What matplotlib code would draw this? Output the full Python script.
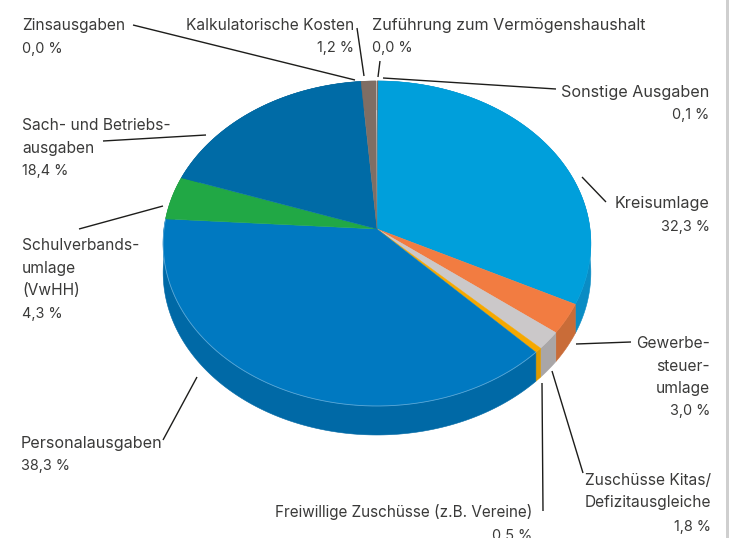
import numpy as np
import matplotlib
matplotlib.use('Agg')
import matplotlib.pyplot as plt
from matplotlib.patches import Polygon

plt.rcParams['font.family'] = ['Inter', 'DejaVu Sans']

# clockwise from twelve o'clock
categories = ['Sonstige Ausgaben', 'Kreisumlage', 'Gewerbesteuerumlage', 'Zuschüsse Kitas/Defizitausgleiche',
              'Freiwillige Zuschüsse (z.B. Vereine)', 'Personalausgaben', 'Schulverbandsumlage (VwHH)',
              'Sach- und Betriebsausgaben', 'Zinsausgaben', 'Kalkulatorische Kosten',
              'Zuführung zum Vermögenshaushalt']
values = [0.1, 32.3, 3.0, 1.8, 0.5, 38.3, 4.3, 18.4, 0.0, 1.2, 0.0]
top_colors = ['#7f6e64', '#009fdb', '#f27c41', '#cbc8c9', '#f5a800', '#0079c1', '#21a845',
              '#006ba6', '#006ba6', '#7f6e64', '#7f6e64']
side_colors = ['#6b5d54', '#0a8cc4', '#c96c38', '#a9a6a7', '#dd9a00', '#0069a6', '#1b8f3a',
               '#005a8c', '#005a8c', '#6b5d54', '#6b5d54']

# text, x, baseline y, alignment
labels = [
    ('Zinsausgaben', 22, 30, 'left'), ('0,0 %', 22, 53, 'left'),
    ('Kalkulatorische Kosten', 354, 30, 'right'), ('1,2 %', 354, 52, 'right'),
    ('Zuführung zum Vermögenshaushalt', 372, 30, 'left'), ('0,0 %', 372, 52, 'left'),
    ('Sonstige Ausgaben', 709, 97, 'right'), ('0,1 %', 709, 119, 'right'),
    ('Kreisumlage', 710, 208, 'right'), ('32,3 %', 710, 231, 'right'),
    ('Gewerbe-', 710, 348, 'right'), ('steuer-', 710, 371, 'right'),
    ('umlage', 710, 393, 'right'), ('3,0 %', 710, 415, 'right'),
    ('Zuschüsse Kitas/', 711, 485, 'right'), ('Defizitausgleiche', 711, 507, 'right'),
    ('1,8 %', 711, 531, 'right'),
    ('Freiwillige Zuschüsse (z.B. Vereine)', 532, 517, 'right'), ('0,5 %', 532, 540, 'right'),
    ('Personalausgaben', 21, 448, 'left'), ('38,3 %', 21, 470, 'left'),
    ('Schulverbands-', 22, 250, 'left'), ('umlage', 22, 273, 'left'),
    ('(VwHH)', 22, 295, 'left'), ('4,3 %', 22, 318, 'left'),
    ('Sach- und Betriebs-', 22, 130, 'left'), ('ausgaben', 22, 153, 'left'),
    ('18,4 %', 22, 175, 'left'),
]

leaders = [
    ((133, 25), (355, 80)), ((357, 28), (364, 76)), ((380, 61), (378, 77)),
    ((383, 78), (556, 89)), ((582, 177), (606, 202)), ((576, 344), (631, 342)),
    ((552, 371), (583, 473)), ((542, 383), (543, 511)), ((197, 377), (163, 440)),
    ((163, 206), (79, 229)), ((206, 135), (103, 141)),
]

# tilted disc: apex on screen, radii and perspective factor
cx, cy = 377, 229
sx, sy = 213, 161.2
persp = 0.0892
depth = 29


def disc_points(start, end):
    # percent values to screen points on the rim
    n = max(int((end - start) * 4), 2)
    a = np.linspace(start, end, n) / 100 * 2 * np.pi
    x, y = np.sin(a), np.cos(a)
    w = 1 + persp * y
    return np.column_stack([cx + sx * x / w, cy - sy * y / w])


def label_size(text):
    # the lines that run wider or narrower than the rest
    if text.endswith('%'):
        return 10.4
    if text.startswith('Freiwillige'):
        return 11.0
    if text.startswith(('Zuführung', 'Sonstige', 'Personal', 'Kreis')):
        return 11.6
    return 11.2


fig = plt.figure(figsize=(7.34, 5.38), dpi=100)
ax = fig.add_axes([0, 0, 1, 1])
ax.set_xlim(0, 734)
ax.set_ylim(538, 0)
ax.axis('off')

edges = np.concatenate([[0], np.cumsum(values)])

for i, v in enumerate(values):
    if v == 0:
        continue
    rim = disc_points(edges[i], edges[i + 1])
    low = rim[::-1] + [0, depth]
    ax.add_patch(Polygon(np.vstack([rim, low]), closed=True, fc=side_colors[i], ec=side_colors[i], lw=0.4, zorder=2))

for i, v in enumerate(values):
    if v == 0:
        continue
    rim = disc_points(edges[i], edges[i + 1])
    ax.add_patch(Polygon(np.vstack([[cx, cy], rim]), closed=True, fc=top_colors[i], ec=top_colors[i], lw=0.3, zorder=3))

# pale rim on the big slice
rim = disc_points(edges[5], edges[6])
ax.plot(rim[:, 0], rim[:, 1], color='#5aa7d6', lw=0.6, zorder=4)

for (x0, y0), (x1, y1) in leaders:
    ax.plot([x0, x1], [y0, y1], color='#1d1d1b', lw=1.0, zorder=5, solid_capstyle='butt')

for text, x, y, ha in labels:
    ax.text(x, y, text, ha=ha, va='baseline', fontsize=label_size(text), color='#3a3a39', zorder=6)

# grey page edge on the right
ax.axvspan(726, 729, color='#cfcfcf', lw=0, zorder=1)

fig.savefig('out.png', dpi=100)
